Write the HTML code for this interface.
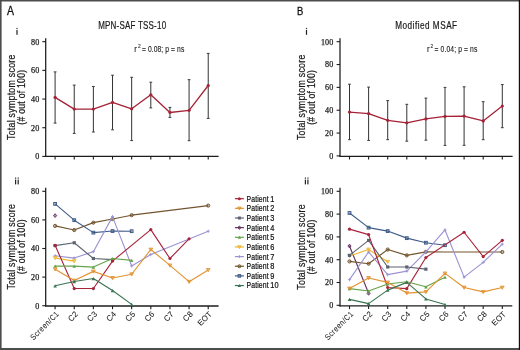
<!DOCTYPE html>
<html><head><meta charset="utf-8"><title>Figure</title>
<style>html,body{margin:0;padding:0;width:520px;height:350px;overflow:hidden;background:#fff;font-family:"Liberation Sans", sans-serif;}</style>
</head><body>
<svg width="520" height="350" viewBox="0 0 520 350" style="position:absolute;left:0;top:0;will-change:transform" font-family='"Liberation Sans", sans-serif'>
<rect x="0" y="0" width="520" height="350" fill="#ffffff"/>
<text x="6.9" y="14.8" font-size="12" text-anchor="start" fill="#111" textLength="7" lengthAdjust="spacingAndGlyphs" stroke="#111" stroke-width="0.3">A</text>
<text x="296.9" y="14.7" font-size="11.4" text-anchor="start" fill="#111" textLength="6.3" lengthAdjust="spacingAndGlyphs" stroke="#111" stroke-width="0.3">B</text>
<text transform="translate(98.2,28.7) scale(0.8,1)" x="0" y="0" font-size="10" text-anchor="start" fill="#1a1a1a" stroke="#1a1a1a" stroke-width="0.2" textLength="84.88" lengthAdjust="spacing" >MPN-SAF TSS-10</text>
<text transform="translate(395.2,28.6) scale(0.82,1)" x="0" y="0" font-size="10" text-anchor="start" fill="#1a1a1a" stroke="#1a1a1a" stroke-width="0.2" textLength="75.49" lengthAdjust="spacing" >Modified MSAF</text>
<rect x="16.4" y="27.9" width="1.2" height="1.2" fill="#2a2a2a"/>
<rect x="16.4" y="30" width="1.2" height="4.8" fill="#222"/>
<rect x="305.9" y="27.9" width="1.2" height="1.2" fill="#2a2a2a"/>
<rect x="305.9" y="30" width="1.2" height="4.8" fill="#222"/>
<rect x="15" y="177.5" width="1.2" height="1.2" fill="#2a2a2a"/>
<rect x="15" y="179.6" width="1.2" height="4.8" fill="#222"/>
<rect x="17.6" y="177.5" width="1.2" height="1.2" fill="#2a2a2a"/>
<rect x="17.6" y="179.6" width="1.2" height="4.8" fill="#222"/>
<rect x="304.8" y="177.5" width="1.2" height="1.2" fill="#2a2a2a"/>
<rect x="304.8" y="179.6" width="1.2" height="4.8" fill="#222"/>
<rect x="307.3" y="177.5" width="1.2" height="1.2" fill="#2a2a2a"/>
<rect x="307.3" y="179.6" width="1.2" height="4.8" fill="#222"/>
<text transform="translate(134.3,52.3) scale(0.9,1)" x="0" y="0" font-size="8.6" text-anchor="start" fill="#1a1a1a" stroke="#1a1a1a" stroke-width="0.12" >r</text>
<text transform="translate(137.9,47.7) scale(0.9,1)" x="0" y="0" font-size="5.4" text-anchor="start" fill="#1a1a1a" stroke="#1a1a1a" stroke-width="0.08" >2</text>
<text transform="translate(141.9,52.3) scale(0.8,1)" x="0" y="0" font-size="8.4" text-anchor="start" fill="#1a1a1a" stroke="#1a1a1a" stroke-width="0.12" textLength="53" lengthAdjust="spacing" >= 0.08; p = ns</text>
<text transform="translate(427,52.3) scale(0.9,1)" x="0" y="0" font-size="8.6" text-anchor="start" fill="#1a1a1a" stroke="#1a1a1a" stroke-width="0.12" >r</text>
<text transform="translate(430.5,47.7) scale(0.9,1)" x="0" y="0" font-size="5.4" text-anchor="start" fill="#1a1a1a" stroke="#1a1a1a" stroke-width="0.08" >2</text>
<text transform="translate(434.5,52.3) scale(0.8,1)" x="0" y="0" font-size="8.4" text-anchor="start" fill="#1a1a1a" stroke="#1a1a1a" stroke-width="0.12" textLength="53.5" lengthAdjust="spacing" >= 0.04; p = ns</text>
<line x1="45.7" y1="38.3" x2="45.7" y2="157" stroke="#1c1c1c" stroke-width="1.25"/>
<line x1="45.1" y1="156.4" x2="218.6" y2="156.4" stroke="#1c1c1c" stroke-width="1.35"/>
<line x1="42.3" y1="156.4" x2="45.7" y2="156.4" stroke="#1c1c1c" stroke-width="1.1"/>
<text x="39.2" y="159.25" font-size="8.1" text-anchor="end" fill="#1e1e1e" stroke="#1e1e1e" stroke-width="0.25" font-family="Liberation Serif, serif">0</text>
<line x1="42.3" y1="127.72" x2="45.7" y2="127.72" stroke="#1c1c1c" stroke-width="1.1"/>
<text x="39.2" y="130.57" font-size="8.1" text-anchor="end" fill="#1e1e1e" stroke="#1e1e1e" stroke-width="0.25" font-family="Liberation Serif, serif">20</text>
<line x1="42.3" y1="99.04" x2="45.7" y2="99.04" stroke="#1c1c1c" stroke-width="1.1"/>
<text x="39.2" y="101.89" font-size="8.1" text-anchor="end" fill="#1e1e1e" stroke="#1e1e1e" stroke-width="0.25" font-family="Liberation Serif, serif">40</text>
<line x1="42.3" y1="70.36" x2="45.7" y2="70.36" stroke="#1c1c1c" stroke-width="1.1"/>
<text x="39.2" y="73.21" font-size="8.1" text-anchor="end" fill="#1e1e1e" stroke="#1e1e1e" stroke-width="0.25" font-family="Liberation Serif, serif">60</text>
<line x1="42.3" y1="41.68" x2="45.7" y2="41.68" stroke="#1c1c1c" stroke-width="1.1"/>
<text x="39.2" y="44.53" font-size="8.1" text-anchor="end" fill="#1e1e1e" stroke="#1e1e1e" stroke-width="0.25" font-family="Liberation Serif, serif">80</text>
<line x1="55.1" y1="156.4" x2="55.1" y2="159.6" stroke="#1c1c1c" stroke-width="1.1"/>
<line x1="74.24" y1="156.4" x2="74.24" y2="159.6" stroke="#1c1c1c" stroke-width="1.1"/>
<line x1="93.38" y1="156.4" x2="93.38" y2="159.6" stroke="#1c1c1c" stroke-width="1.1"/>
<line x1="112.52" y1="156.4" x2="112.52" y2="159.6" stroke="#1c1c1c" stroke-width="1.1"/>
<line x1="131.66" y1="156.4" x2="131.66" y2="159.6" stroke="#1c1c1c" stroke-width="1.1"/>
<line x1="150.8" y1="156.4" x2="150.8" y2="159.6" stroke="#1c1c1c" stroke-width="1.1"/>
<line x1="169.94" y1="156.4" x2="169.94" y2="159.6" stroke="#1c1c1c" stroke-width="1.1"/>
<line x1="189.08" y1="156.4" x2="189.08" y2="159.6" stroke="#1c1c1c" stroke-width="1.1"/>
<line x1="208.22" y1="156.4" x2="208.22" y2="159.6" stroke="#1c1c1c" stroke-width="1.1"/>
<text transform="translate(15,97.3) rotate(-90) scale(0.8,1)" x="0" y="0" font-size="11" text-anchor="middle" fill="#1a1a1a" stroke="#1a1a1a" stroke-width="0.22" textLength="106.75" lengthAdjust="spacing" >Total symptom score</text>
<text transform="translate(24.6,97.3) rotate(-90) scale(0.8,1)" x="0" y="0" font-size="10.8" text-anchor="middle" fill="#1a1a1a" stroke="#1a1a1a" stroke-width="0.22" textLength="68.5" lengthAdjust="spacing" >(# out of 100)</text>
<line x1="55.1" y1="71.9" x2="55.1" y2="123.1" stroke="#333" stroke-width="1"/>
<line x1="53.7" y1="71.9" x2="56.5" y2="71.9" stroke="#3a3a3a" stroke-width="1"/>
<line x1="53.7" y1="123.1" x2="56.5" y2="123.1" stroke="#3a3a3a" stroke-width="1"/>
<line x1="74.24" y1="85.1" x2="74.24" y2="133.4" stroke="#333" stroke-width="1"/>
<line x1="72.84" y1="85.1" x2="75.64" y2="85.1" stroke="#3a3a3a" stroke-width="1"/>
<line x1="72.84" y1="133.4" x2="75.64" y2="133.4" stroke="#3a3a3a" stroke-width="1"/>
<line x1="93.38" y1="86.5" x2="93.38" y2="132" stroke="#333" stroke-width="1"/>
<line x1="91.98" y1="86.5" x2="94.78" y2="86.5" stroke="#3a3a3a" stroke-width="1"/>
<line x1="91.98" y1="132" x2="94.78" y2="132" stroke="#3a3a3a" stroke-width="1"/>
<line x1="112.52" y1="75.2" x2="112.52" y2="129.8" stroke="#333" stroke-width="1"/>
<line x1="111.12" y1="75.2" x2="113.92" y2="75.2" stroke="#3a3a3a" stroke-width="1"/>
<line x1="111.12" y1="129.8" x2="113.92" y2="129.8" stroke="#3a3a3a" stroke-width="1"/>
<line x1="131.66" y1="77.3" x2="131.66" y2="140.6" stroke="#333" stroke-width="1"/>
<line x1="130.26" y1="77.3" x2="133.06" y2="77.3" stroke="#3a3a3a" stroke-width="1"/>
<line x1="130.26" y1="140.6" x2="133.06" y2="140.6" stroke="#3a3a3a" stroke-width="1"/>
<line x1="150.8" y1="82.2" x2="150.8" y2="107.9" stroke="#333" stroke-width="1"/>
<line x1="149.4" y1="82.2" x2="152.2" y2="82.2" stroke="#3a3a3a" stroke-width="1"/>
<line x1="149.4" y1="107.9" x2="152.2" y2="107.9" stroke="#3a3a3a" stroke-width="1"/>
<line x1="169.94" y1="107.4" x2="169.94" y2="117.4" stroke="#333" stroke-width="1"/>
<line x1="168.54" y1="107.4" x2="171.34" y2="107.4" stroke="#3a3a3a" stroke-width="1"/>
<line x1="168.54" y1="117.4" x2="171.34" y2="117.4" stroke="#3a3a3a" stroke-width="1"/>
<line x1="189.08" y1="79.7" x2="189.08" y2="140.7" stroke="#333" stroke-width="1"/>
<line x1="187.68" y1="79.7" x2="190.48" y2="79.7" stroke="#3a3a3a" stroke-width="1"/>
<line x1="187.68" y1="140.7" x2="190.48" y2="140.7" stroke="#3a3a3a" stroke-width="1"/>
<line x1="208.22" y1="53.4" x2="208.22" y2="118.4" stroke="#333" stroke-width="1"/>
<line x1="206.82" y1="53.4" x2="209.62" y2="53.4" stroke="#3a3a3a" stroke-width="1"/>
<line x1="206.82" y1="118.4" x2="209.62" y2="118.4" stroke="#3a3a3a" stroke-width="1"/>
<polyline points="55.1,97.4 74.24,109.1 93.38,109.1 112.52,102.4 131.66,108.8 150.8,94.8 169.94,112.5 189.08,110.3 208.22,85.5" fill="none" stroke="#a52237" stroke-width="1.3" stroke-linejoin="round"/>
<circle cx="55.1" cy="97.4" r="1.6" fill="#a52237"/>
<circle cx="74.24" cy="109.1" r="1.6" fill="#a52237"/>
<circle cx="93.38" cy="109.1" r="1.6" fill="#a52237"/>
<circle cx="112.52" cy="102.4" r="1.6" fill="#a52237"/>
<circle cx="131.66" cy="108.8" r="1.6" fill="#a52237"/>
<circle cx="150.8" cy="94.8" r="1.6" fill="#a52237"/>
<circle cx="169.94" cy="112.5" r="1.6" fill="#a52237"/>
<circle cx="189.08" cy="110.3" r="1.6" fill="#a52237"/>
<circle cx="208.22" cy="85.5" r="1.6" fill="#a52237"/>
<line x1="45.7" y1="187.8" x2="45.7" y2="306.6" stroke="#1c1c1c" stroke-width="1.25"/>
<line x1="45.1" y1="306" x2="218.6" y2="306" stroke="#1c1c1c" stroke-width="1.35"/>
<line x1="42.3" y1="305.7" x2="45.7" y2="305.7" stroke="#1c1c1c" stroke-width="1.1"/>
<text x="39.2" y="308.55" font-size="8.1" text-anchor="end" fill="#1e1e1e" stroke="#1e1e1e" stroke-width="0.25" font-family="Liberation Serif, serif">0</text>
<line x1="42.3" y1="277.1" x2="45.7" y2="277.1" stroke="#1c1c1c" stroke-width="1.1"/>
<text x="39.2" y="279.95" font-size="8.1" text-anchor="end" fill="#1e1e1e" stroke="#1e1e1e" stroke-width="0.25" font-family="Liberation Serif, serif">20</text>
<line x1="42.3" y1="248.5" x2="45.7" y2="248.5" stroke="#1c1c1c" stroke-width="1.1"/>
<text x="39.2" y="251.35" font-size="8.1" text-anchor="end" fill="#1e1e1e" stroke="#1e1e1e" stroke-width="0.25" font-family="Liberation Serif, serif">40</text>
<line x1="42.3" y1="219.9" x2="45.7" y2="219.9" stroke="#1c1c1c" stroke-width="1.1"/>
<text x="39.2" y="222.75" font-size="8.1" text-anchor="end" fill="#1e1e1e" stroke="#1e1e1e" stroke-width="0.25" font-family="Liberation Serif, serif">60</text>
<line x1="42.3" y1="191.3" x2="45.7" y2="191.3" stroke="#1c1c1c" stroke-width="1.1"/>
<text x="39.2" y="194.15" font-size="8.1" text-anchor="end" fill="#1e1e1e" stroke="#1e1e1e" stroke-width="0.25" font-family="Liberation Serif, serif">80</text>
<line x1="55.1" y1="306" x2="55.1" y2="309.2" stroke="#1c1c1c" stroke-width="1.1"/>
<line x1="74.24" y1="306" x2="74.24" y2="309.2" stroke="#1c1c1c" stroke-width="1.1"/>
<line x1="93.38" y1="306" x2="93.38" y2="309.2" stroke="#1c1c1c" stroke-width="1.1"/>
<line x1="112.52" y1="306" x2="112.52" y2="309.2" stroke="#1c1c1c" stroke-width="1.1"/>
<line x1="131.66" y1="306" x2="131.66" y2="309.2" stroke="#1c1c1c" stroke-width="1.1"/>
<line x1="150.8" y1="306" x2="150.8" y2="309.2" stroke="#1c1c1c" stroke-width="1.1"/>
<line x1="169.94" y1="306" x2="169.94" y2="309.2" stroke="#1c1c1c" stroke-width="1.1"/>
<line x1="189.08" y1="306" x2="189.08" y2="309.2" stroke="#1c1c1c" stroke-width="1.1"/>
<line x1="208.22" y1="306" x2="208.22" y2="309.2" stroke="#1c1c1c" stroke-width="1.1"/>
<text transform="translate(15,246.8) rotate(-90) scale(0.8,1)" x="0" y="0" font-size="11" text-anchor="middle" fill="#1a1a1a" stroke="#1a1a1a" stroke-width="0.22" textLength="106.75" lengthAdjust="spacing" >Total symptom score</text>
<text transform="translate(24.6,246.8) rotate(-90) scale(0.8,1)" x="0" y="0" font-size="10.8" text-anchor="middle" fill="#1a1a1a" stroke="#1a1a1a" stroke-width="0.22" textLength="68.5" lengthAdjust="spacing" >(# out of 100)</text>
<path d="M55.1,213.71 L56.7,215.61 L55.1,217.51 L53.5,215.61 Z" fill="#63305f" fill-opacity="0.55" stroke="#63305f" stroke-width="0.9"/>
<polyline points="55.1,225.91 74.24,230.05 93.38,222.62 112.52,219.04 131.66,215.18 208.22,205.6" fill="none" stroke="#72542e" stroke-width="1.12" stroke-linejoin="round"/>
<circle cx="55.1" cy="225.91" r="1.6" fill="#72542e" fill-opacity="0.35" stroke="#72542e" stroke-width="0.95"/>
<circle cx="74.24" cy="230.05" r="1.6" fill="#72542e" fill-opacity="0.35" stroke="#72542e" stroke-width="0.95"/>
<circle cx="93.38" cy="222.62" r="1.6" fill="#72542e" fill-opacity="0.35" stroke="#72542e" stroke-width="0.95"/>
<circle cx="112.52" cy="219.04" r="1.6" fill="#72542e" fill-opacity="0.35" stroke="#72542e" stroke-width="0.95"/>
<circle cx="131.66" cy="215.18" r="1.6" fill="#72542e" fill-opacity="0.35" stroke="#72542e" stroke-width="0.95"/>
<circle cx="208.22" cy="205.6" r="1.6" fill="#72542e" fill-opacity="0.35" stroke="#72542e" stroke-width="0.95"/>
<polyline points="55.1,203.88 74.24,220.19 93.38,232.63 112.52,231.05 131.66,231.2" fill="none" stroke="#405c88" stroke-width="1.12" stroke-linejoin="round"/>
<rect x="53.72" y="202.51" width="2.75" height="2.75" fill="#405c88" fill-opacity="0.3" stroke="#405c88" stroke-width="1.0"/>
<rect x="72.86" y="218.81" width="2.75" height="2.75" fill="#405c88" fill-opacity="0.3" stroke="#405c88" stroke-width="1.0"/>
<rect x="92" y="231.25" width="2.75" height="2.75" fill="#405c88" fill-opacity="0.3" stroke="#405c88" stroke-width="1.0"/>
<rect x="111.14" y="229.68" width="2.75" height="2.75" fill="#405c88" fill-opacity="0.3" stroke="#405c88" stroke-width="1.0"/>
<rect x="130.28" y="229.82" width="2.75" height="2.75" fill="#405c88" fill-opacity="0.3" stroke="#405c88" stroke-width="1.0"/>
<polyline points="55.1,255.79 74.24,258.08 93.38,251.65 112.52,216.61 131.66,265.95 150.8,254.51 208.22,231.2" fill="none" stroke="#9b93d3" stroke-width="1.12" stroke-linejoin="round"/>
<path d="M53.5,255.79 H56.7 M55.1,254.19 V257.39" stroke="#9b93d3" stroke-width="0.9"/>
<path d="M72.64,258.08 H75.84 M74.24,256.48 V259.68" stroke="#9b93d3" stroke-width="0.9"/>
<path d="M91.78,251.65 H94.98 M93.38,250.05 V253.25" stroke="#9b93d3" stroke-width="0.9"/>
<path d="M110.92,216.61 H114.12 M112.52,215.01 V218.21" stroke="#9b93d3" stroke-width="0.9"/>
<path d="M130.06,265.95 H133.26 M131.66,264.35 V267.55" stroke="#9b93d3" stroke-width="0.9"/>
<path d="M149.2,254.51 H152.4 M150.8,252.91 V256.11" stroke="#9b93d3" stroke-width="0.9"/>
<path d="M206.62,231.2 H209.82 M208.22,229.6 V232.8" stroke="#9b93d3" stroke-width="0.9"/>
<polyline points="55.1,257.94 74.24,261.08" fill="none" stroke="#efb52e" stroke-width="1.12" stroke-linejoin="round"/>
<path d="M53.2,256.54 L57,256.54 L55.1,259.74 Z" fill="#efb52e" fill-opacity="0.6" stroke="#efb52e" stroke-width="0.8"/>
<path d="M72.34,259.68 L76.14,259.68 L74.24,262.88 Z" fill="#efb52e" fill-opacity="0.6" stroke="#efb52e" stroke-width="0.8"/>
<polyline points="55.1,245.64 74.24,242.78 93.38,258.51 112.52,259.65" fill="none" stroke="#5c6370" stroke-width="1.12" stroke-linejoin="round"/>
<rect x="53.5" y="244.04" width="3.2" height="3.2" fill="#5c6370"/>
<rect x="72.64" y="241.18" width="3.2" height="3.2" fill="#5c6370"/>
<rect x="91.78" y="256.91" width="3.2" height="3.2" fill="#5c6370"/>
<rect x="110.92" y="258.05" width="3.2" height="3.2" fill="#5c6370"/>
<polyline points="55.1,245.35 74.24,288.54 93.38,288.54 112.52,261.08 150.8,229.62 169.94,258.51 189.08,238.78" fill="none" stroke="#a8243a" stroke-width="1.12" stroke-linejoin="round"/>
<circle cx="55.1" cy="245.35" r="1.6" fill="#a8243a"/>
<circle cx="74.24" cy="288.54" r="1.6" fill="#a8243a"/>
<circle cx="93.38" cy="288.54" r="1.6" fill="#a8243a"/>
<circle cx="112.52" cy="261.08" r="1.6" fill="#a8243a"/>
<circle cx="150.8" cy="229.62" r="1.6" fill="#a8243a"/>
<circle cx="169.94" cy="258.51" r="1.6" fill="#a8243a"/>
<circle cx="189.08" cy="238.78" r="1.6" fill="#a8243a"/>
<polyline points="55.1,266.09 74.24,266.09 93.38,267.09 112.52,258.51 131.66,260.37" fill="none" stroke="#65a34a" stroke-width="1.12" stroke-linejoin="round"/>
<path d="M53.3,267.69 L56.9,267.69 L55.1,264.49 Z" fill="#65a34a"/>
<path d="M72.44,267.69 L76.04,267.69 L74.24,264.49 Z" fill="#65a34a"/>
<path d="M91.58,268.69 L95.18,268.69 L93.38,265.49 Z" fill="#65a34a"/>
<path d="M110.72,260.11 L114.32,260.11 L112.52,256.91 Z" fill="#65a34a"/>
<path d="M129.86,261.97 L133.46,261.97 L131.66,258.77 Z" fill="#65a34a"/>
<polyline points="55.1,269.24 74.24,280.53 93.38,271.38 112.52,277.96 131.66,274.24 150.8,249.5 169.94,265.37 189.08,281.68 208.22,269.95" fill="none" stroke="#e2922f" stroke-width="1.12" stroke-linejoin="round"/>
<path d="M53.2,267.83 L57,267.83 L55.1,271.04 Z" fill="#e2922f" fill-opacity="0.6" stroke="#e2922f" stroke-width="0.8"/>
<path d="M72.34,279.13 L76.14,279.13 L74.24,282.33 Z" fill="#e2922f" fill-opacity="0.6" stroke="#e2922f" stroke-width="0.8"/>
<path d="M91.48,269.98 L95.28,269.98 L93.38,273.18 Z" fill="#e2922f" fill-opacity="0.6" stroke="#e2922f" stroke-width="0.8"/>
<path d="M110.62,276.56 L114.42,276.56 L112.52,279.76 Z" fill="#e2922f" fill-opacity="0.6" stroke="#e2922f" stroke-width="0.8"/>
<path d="M129.76,272.84 L133.56,272.84 L131.66,276.04 Z" fill="#e2922f" fill-opacity="0.6" stroke="#e2922f" stroke-width="0.8"/>
<path d="M148.9,248.1 L152.7,248.1 L150.8,251.3 Z" fill="#e2922f" fill-opacity="0.6" stroke="#e2922f" stroke-width="0.8"/>
<path d="M168.04,263.97 L171.84,263.97 L169.94,267.17 Z" fill="#e2922f" fill-opacity="0.6" stroke="#e2922f" stroke-width="0.8"/>
<path d="M187.18,280.28 L190.98,280.28 L189.08,283.48 Z" fill="#e2922f" fill-opacity="0.6" stroke="#e2922f" stroke-width="0.8"/>
<path d="M206.32,268.55 L210.12,268.55 L208.22,271.75 Z" fill="#e2922f" fill-opacity="0.6" stroke="#e2922f" stroke-width="0.8"/>
<polyline points="55.1,285.82 74.24,281.53 93.38,278.53 112.52,290.54 131.66,304.41" fill="none" stroke="#3b7352" stroke-width="1.12" stroke-linejoin="round"/>
<path d="M53.3,287.42 L56.9,287.42 L55.1,284.22 Z" fill="#3b7352"/>
<path d="M72.44,283.13 L76.04,283.13 L74.24,279.93 Z" fill="#3b7352"/>
<path d="M91.58,280.13 L95.18,280.13 L93.38,276.93 Z" fill="#3b7352"/>
<path d="M110.72,292.14 L114.32,292.14 L112.52,288.94 Z" fill="#3b7352"/>
<path d="M129.86,306.01 L133.46,306.01 L131.66,302.81 Z" fill="#3b7352"/>
<text transform="translate(59.3,314.7) rotate(-45) scale(0.88,1)" x="0" y="0" font-size="8" text-anchor="end" fill="#1a1a1a" stroke="#1a1a1a" stroke-width="0.05" textLength="41.48" lengthAdjust="spacing" >Screen/C1</text>
<text transform="translate(78.44,314.7) rotate(-45) scale(1,1)" x="0" y="0" font-size="8" text-anchor="end" fill="#1a1a1a" stroke="#1a1a1a" stroke-width="0.05" >C2</text>
<text transform="translate(97.58,314.7) rotate(-45) scale(1,1)" x="0" y="0" font-size="8" text-anchor="end" fill="#1a1a1a" stroke="#1a1a1a" stroke-width="0.05" >C3</text>
<text transform="translate(116.72,314.7) rotate(-45) scale(1,1)" x="0" y="0" font-size="8" text-anchor="end" fill="#1a1a1a" stroke="#1a1a1a" stroke-width="0.05" >C4</text>
<text transform="translate(135.86,314.7) rotate(-45) scale(1,1)" x="0" y="0" font-size="8" text-anchor="end" fill="#1a1a1a" stroke="#1a1a1a" stroke-width="0.05" >C5</text>
<text transform="translate(155,314.7) rotate(-45) scale(1,1)" x="0" y="0" font-size="8" text-anchor="end" fill="#1a1a1a" stroke="#1a1a1a" stroke-width="0.05" >C6</text>
<text transform="translate(174.14,314.7) rotate(-45) scale(1,1)" x="0" y="0" font-size="8" text-anchor="end" fill="#1a1a1a" stroke="#1a1a1a" stroke-width="0.05" >C7</text>
<text transform="translate(193.28,314.7) rotate(-45) scale(1,1)" x="0" y="0" font-size="8" text-anchor="end" fill="#1a1a1a" stroke="#1a1a1a" stroke-width="0.05" >C8</text>
<text transform="translate(212.42,314.7) rotate(-45) scale(1,1)" x="0" y="0" font-size="8" text-anchor="end" fill="#1a1a1a" stroke="#1a1a1a" stroke-width="0.05" >EOT</text>
<line x1="234.9" y1="198.7" x2="243.9" y2="198.7" stroke="#a8243a" stroke-width="1.2"/>
<circle cx="239.4" cy="198.7" r="1.5" fill="#a8243a"/>
<text transform="translate(246.5,201.6) scale(0.8,1)" x="0" y="0" font-size="8.6" text-anchor="start" fill="#111" stroke="#111" stroke-width="0.22" textLength="27.75" lengthAdjust="spacing" >Patient</text>
<text transform="translate(274.3,201.6) scale(0.86,1)" x="0" y="0" font-size="8.6" text-anchor="end" fill="#111" stroke="#111" stroke-width="0.22" >1</text>
<line x1="234.9" y1="208.35" x2="243.9" y2="208.35" stroke="#e2922f" stroke-width="1.2"/>
<path d="M237.6,207.05 L241.2,207.05 L239.4,210.05 Z" fill="#e2922f" fill-opacity="0.6" stroke="#e2922f" stroke-width="0.8"/>
<text transform="translate(246.5,211.25) scale(0.8,1)" x="0" y="0" font-size="8.6" text-anchor="start" fill="#111" stroke="#111" stroke-width="0.22" textLength="27.75" lengthAdjust="spacing" >Patient</text>
<text transform="translate(274.3,211.25) scale(0.86,1)" x="0" y="0" font-size="8.6" text-anchor="end" fill="#111" stroke="#111" stroke-width="0.22" >2</text>
<line x1="234.9" y1="218" x2="243.9" y2="218" stroke="#5c6370" stroke-width="1.2"/>
<rect x="237.9" y="216.5" width="3" height="3" fill="#5c6370"/>
<text transform="translate(246.5,220.9) scale(0.8,1)" x="0" y="0" font-size="8.6" text-anchor="start" fill="#111" stroke="#111" stroke-width="0.22" textLength="27.75" lengthAdjust="spacing" >Patient</text>
<text transform="translate(274.3,220.9) scale(0.86,1)" x="0" y="0" font-size="8.6" text-anchor="end" fill="#111" stroke="#111" stroke-width="0.22" >3</text>
<line x1="234.9" y1="227.65" x2="243.9" y2="227.65" stroke="#63305f" stroke-width="1.2"/>
<path d="M239.4,225.85 L240.9,227.65 L239.4,229.45 L237.9,227.65 Z" fill="#63305f" fill-opacity="0.55" stroke="#63305f" stroke-width="0.9"/>
<text transform="translate(246.5,230.55) scale(0.8,1)" x="0" y="0" font-size="8.6" text-anchor="start" fill="#111" stroke="#111" stroke-width="0.22" textLength="27.75" lengthAdjust="spacing" >Patient</text>
<text transform="translate(274.3,230.55) scale(0.86,1)" x="0" y="0" font-size="8.6" text-anchor="end" fill="#111" stroke="#111" stroke-width="0.22" >4</text>
<line x1="234.9" y1="237.3" x2="243.9" y2="237.3" stroke="#65a34a" stroke-width="1.2"/>
<path d="M237.7,238.8 L241.1,238.8 L239.4,235.8 Z" fill="#65a34a"/>
<text transform="translate(246.5,240.2) scale(0.8,1)" x="0" y="0" font-size="8.6" text-anchor="start" fill="#111" stroke="#111" stroke-width="0.22" textLength="27.75" lengthAdjust="spacing" >Patient</text>
<text transform="translate(274.3,240.2) scale(0.86,1)" x="0" y="0" font-size="8.6" text-anchor="end" fill="#111" stroke="#111" stroke-width="0.22" >5</text>
<line x1="234.9" y1="246.95" x2="243.9" y2="246.95" stroke="#efb52e" stroke-width="1.2"/>
<path d="M237.6,245.65 L241.2,245.65 L239.4,248.65 Z" fill="#efb52e" fill-opacity="0.6" stroke="#efb52e" stroke-width="0.8"/>
<text transform="translate(246.5,249.85) scale(0.8,1)" x="0" y="0" font-size="8.6" text-anchor="start" fill="#111" stroke="#111" stroke-width="0.22" textLength="27.75" lengthAdjust="spacing" >Patient</text>
<text transform="translate(274.3,249.85) scale(0.86,1)" x="0" y="0" font-size="8.6" text-anchor="end" fill="#111" stroke="#111" stroke-width="0.22" >6</text>
<line x1="234.9" y1="256.6" x2="243.9" y2="256.6" stroke="#9b93d3" stroke-width="1.2"/>
<path d="M237.9,256.6 H240.9 M239.4,255.1 V258.1" stroke="#9b93d3" stroke-width="0.9"/>
<text transform="translate(246.5,259.5) scale(0.8,1)" x="0" y="0" font-size="8.6" text-anchor="start" fill="#111" stroke="#111" stroke-width="0.22" textLength="27.75" lengthAdjust="spacing" >Patient</text>
<text transform="translate(274.3,259.5) scale(0.86,1)" x="0" y="0" font-size="8.6" text-anchor="end" fill="#111" stroke="#111" stroke-width="0.22" >7</text>
<line x1="234.9" y1="266.25" x2="243.9" y2="266.25" stroke="#72542e" stroke-width="1.2"/>
<circle cx="239.4" cy="266.25" r="1.5" fill="#72542e" fill-opacity="0.35" stroke="#72542e" stroke-width="0.95"/>
<text transform="translate(246.5,269.15) scale(0.8,1)" x="0" y="0" font-size="8.6" text-anchor="start" fill="#111" stroke="#111" stroke-width="0.22" textLength="27.75" lengthAdjust="spacing" >Patient</text>
<text transform="translate(274.3,269.15) scale(0.86,1)" x="0" y="0" font-size="8.6" text-anchor="end" fill="#111" stroke="#111" stroke-width="0.22" >8</text>
<line x1="234.9" y1="275.9" x2="243.9" y2="275.9" stroke="#405c88" stroke-width="1.2"/>
<rect x="238.11" y="274.61" width="2.58" height="2.58" fill="#405c88" fill-opacity="0.3" stroke="#405c88" stroke-width="1.0"/>
<text transform="translate(246.5,278.8) scale(0.8,1)" x="0" y="0" font-size="8.6" text-anchor="start" fill="#111" stroke="#111" stroke-width="0.22" textLength="27.75" lengthAdjust="spacing" >Patient</text>
<text transform="translate(274.3,278.8) scale(0.86,1)" x="0" y="0" font-size="8.6" text-anchor="end" fill="#111" stroke="#111" stroke-width="0.22" >9</text>
<line x1="234.9" y1="285.55" x2="243.9" y2="285.55" stroke="#3b7352" stroke-width="1.2"/>
<path d="M237.7,287.05 L241.1,287.05 L239.4,284.05 Z" fill="#3b7352"/>
<text transform="translate(246.5,288.45) scale(0.8,1)" x="0" y="0" font-size="8.6" text-anchor="start" fill="#111" stroke="#111" stroke-width="0.22" textLength="27.75" lengthAdjust="spacing" >Patient</text>
<text transform="translate(278.6,288.45) scale(0.86,1)" x="0" y="0" font-size="8.6" text-anchor="end" fill="#111" stroke="#111" stroke-width="0.22" >10</text>
<line x1="340" y1="38.3" x2="340" y2="156.9" stroke="#1c1c1c" stroke-width="1.25"/>
<line x1="339.4" y1="156.3" x2="512.6" y2="156.3" stroke="#1c1c1c" stroke-width="1.35"/>
<line x1="336.6" y1="155.9" x2="340" y2="155.9" stroke="#1c1c1c" stroke-width="1.1"/>
<text x="333.2" y="158.75" font-size="8.1" text-anchor="end" fill="#1e1e1e" stroke="#1e1e1e" stroke-width="0.25" font-family="Liberation Serif, serif">0</text>
<line x1="336.6" y1="133.06" x2="340" y2="133.06" stroke="#1c1c1c" stroke-width="1.1"/>
<text x="333.2" y="135.91" font-size="8.1" text-anchor="end" fill="#1e1e1e" stroke="#1e1e1e" stroke-width="0.25" font-family="Liberation Serif, serif">20</text>
<line x1="336.6" y1="110.22" x2="340" y2="110.22" stroke="#1c1c1c" stroke-width="1.1"/>
<text x="333.2" y="113.07" font-size="8.1" text-anchor="end" fill="#1e1e1e" stroke="#1e1e1e" stroke-width="0.25" font-family="Liberation Serif, serif">40</text>
<line x1="336.6" y1="87.38" x2="340" y2="87.38" stroke="#1c1c1c" stroke-width="1.1"/>
<text x="333.2" y="90.23" font-size="8.1" text-anchor="end" fill="#1e1e1e" stroke="#1e1e1e" stroke-width="0.25" font-family="Liberation Serif, serif">60</text>
<line x1="336.6" y1="64.54" x2="340" y2="64.54" stroke="#1c1c1c" stroke-width="1.1"/>
<text x="333.2" y="67.39" font-size="8.1" text-anchor="end" fill="#1e1e1e" stroke="#1e1e1e" stroke-width="0.25" font-family="Liberation Serif, serif">80</text>
<line x1="336.6" y1="41.7" x2="340" y2="41.7" stroke="#1c1c1c" stroke-width="1.1"/>
<text x="333.2" y="44.55" font-size="8.1" text-anchor="end" fill="#1e1e1e" stroke="#1e1e1e" stroke-width="0.25" font-family="Liberation Serif, serif">100</text>
<line x1="349.5" y1="156.3" x2="349.5" y2="159.5" stroke="#1c1c1c" stroke-width="1.1"/>
<line x1="368.6" y1="156.3" x2="368.6" y2="159.5" stroke="#1c1c1c" stroke-width="1.1"/>
<line x1="387.7" y1="156.3" x2="387.7" y2="159.5" stroke="#1c1c1c" stroke-width="1.1"/>
<line x1="406.8" y1="156.3" x2="406.8" y2="159.5" stroke="#1c1c1c" stroke-width="1.1"/>
<line x1="425.9" y1="156.3" x2="425.9" y2="159.5" stroke="#1c1c1c" stroke-width="1.1"/>
<line x1="445" y1="156.3" x2="445" y2="159.5" stroke="#1c1c1c" stroke-width="1.1"/>
<line x1="464.1" y1="156.3" x2="464.1" y2="159.5" stroke="#1c1c1c" stroke-width="1.1"/>
<line x1="483.2" y1="156.3" x2="483.2" y2="159.5" stroke="#1c1c1c" stroke-width="1.1"/>
<line x1="502.3" y1="156.3" x2="502.3" y2="159.5" stroke="#1c1c1c" stroke-width="1.1"/>
<text transform="translate(305,97.4) rotate(-90) scale(0.8,1)" x="0" y="0" font-size="11" text-anchor="middle" fill="#1a1a1a" stroke="#1a1a1a" stroke-width="0.22" textLength="106.75" lengthAdjust="spacing" >Total symptom score</text>
<text transform="translate(314.6,97.4) rotate(-90) scale(0.8,1)" x="0" y="0" font-size="10.8" text-anchor="middle" fill="#1a1a1a" stroke="#1a1a1a" stroke-width="0.22" textLength="68.5" lengthAdjust="spacing" >(# out of 100)</text>
<line x1="349.5" y1="84.2" x2="349.5" y2="139.7" stroke="#333" stroke-width="1"/>
<line x1="348.1" y1="84.2" x2="350.9" y2="84.2" stroke="#3a3a3a" stroke-width="1"/>
<line x1="348.1" y1="139.7" x2="350.9" y2="139.7" stroke="#3a3a3a" stroke-width="1"/>
<line x1="368.6" y1="87.1" x2="368.6" y2="140.4" stroke="#333" stroke-width="1"/>
<line x1="367.2" y1="87.1" x2="370" y2="87.1" stroke="#3a3a3a" stroke-width="1"/>
<line x1="367.2" y1="140.4" x2="370" y2="140.4" stroke="#3a3a3a" stroke-width="1"/>
<line x1="387.7" y1="100.6" x2="387.7" y2="139.7" stroke="#333" stroke-width="1"/>
<line x1="386.3" y1="100.6" x2="389.1" y2="100.6" stroke="#3a3a3a" stroke-width="1"/>
<line x1="386.3" y1="139.7" x2="389.1" y2="139.7" stroke="#3a3a3a" stroke-width="1"/>
<line x1="406.8" y1="104.3" x2="406.8" y2="141.2" stroke="#333" stroke-width="1"/>
<line x1="405.4" y1="104.3" x2="408.2" y2="104.3" stroke="#3a3a3a" stroke-width="1"/>
<line x1="405.4" y1="141.2" x2="408.2" y2="141.2" stroke="#3a3a3a" stroke-width="1"/>
<line x1="425.9" y1="98.1" x2="425.9" y2="140.2" stroke="#333" stroke-width="1"/>
<line x1="424.5" y1="98.1" x2="427.3" y2="98.1" stroke="#3a3a3a" stroke-width="1"/>
<line x1="424.5" y1="140.2" x2="427.3" y2="140.2" stroke="#3a3a3a" stroke-width="1"/>
<line x1="445" y1="87.4" x2="445" y2="145.4" stroke="#333" stroke-width="1"/>
<line x1="443.6" y1="87.4" x2="446.4" y2="87.4" stroke="#3a3a3a" stroke-width="1"/>
<line x1="443.6" y1="145.4" x2="446.4" y2="145.4" stroke="#3a3a3a" stroke-width="1"/>
<line x1="464.1" y1="86.8" x2="464.1" y2="145.3" stroke="#333" stroke-width="1"/>
<line x1="462.7" y1="86.8" x2="465.5" y2="86.8" stroke="#3a3a3a" stroke-width="1"/>
<line x1="462.7" y1="145.3" x2="465.5" y2="145.3" stroke="#3a3a3a" stroke-width="1"/>
<line x1="483.2" y1="101.7" x2="483.2" y2="139.7" stroke="#333" stroke-width="1"/>
<line x1="481.8" y1="101.7" x2="484.6" y2="101.7" stroke="#3a3a3a" stroke-width="1"/>
<line x1="481.8" y1="139.7" x2="484.6" y2="139.7" stroke="#3a3a3a" stroke-width="1"/>
<line x1="502.3" y1="84.6" x2="502.3" y2="127.7" stroke="#333" stroke-width="1"/>
<line x1="500.9" y1="84.6" x2="503.7" y2="84.6" stroke="#3a3a3a" stroke-width="1"/>
<line x1="500.9" y1="127.7" x2="503.7" y2="127.7" stroke="#3a3a3a" stroke-width="1"/>
<polyline points="349.5,112.1 368.6,113.6 387.7,120.3 406.8,122.8 425.9,118.9 445,116.4 464.1,116.1 483.2,120.9 502.3,106" fill="none" stroke="#a52237" stroke-width="1.3" stroke-linejoin="round"/>
<circle cx="349.5" cy="112.1" r="1.6" fill="#a52237"/>
<circle cx="368.6" cy="113.6" r="1.6" fill="#a52237"/>
<circle cx="387.7" cy="120.3" r="1.6" fill="#a52237"/>
<circle cx="406.8" cy="122.8" r="1.6" fill="#a52237"/>
<circle cx="425.9" cy="118.9" r="1.6" fill="#a52237"/>
<circle cx="445" cy="116.4" r="1.6" fill="#a52237"/>
<circle cx="464.1" cy="116.1" r="1.6" fill="#a52237"/>
<circle cx="483.2" cy="120.9" r="1.6" fill="#a52237"/>
<circle cx="502.3" cy="106" r="1.6" fill="#a52237"/>
<line x1="340" y1="187.8" x2="340" y2="306.5" stroke="#1c1c1c" stroke-width="1.25"/>
<line x1="339.4" y1="305.9" x2="512.3" y2="305.9" stroke="#1c1c1c" stroke-width="1.35"/>
<line x1="336.6" y1="305.3" x2="340" y2="305.3" stroke="#1c1c1c" stroke-width="1.1"/>
<text x="333.2" y="308.15" font-size="8.1" text-anchor="end" fill="#1e1e1e" stroke="#1e1e1e" stroke-width="0.25" font-family="Liberation Serif, serif">0</text>
<line x1="336.6" y1="282.5" x2="340" y2="282.5" stroke="#1c1c1c" stroke-width="1.1"/>
<text x="333.2" y="285.35" font-size="8.1" text-anchor="end" fill="#1e1e1e" stroke="#1e1e1e" stroke-width="0.25" font-family="Liberation Serif, serif">20</text>
<line x1="336.6" y1="259.7" x2="340" y2="259.7" stroke="#1c1c1c" stroke-width="1.1"/>
<text x="333.2" y="262.55" font-size="8.1" text-anchor="end" fill="#1e1e1e" stroke="#1e1e1e" stroke-width="0.25" font-family="Liberation Serif, serif">40</text>
<line x1="336.6" y1="236.9" x2="340" y2="236.9" stroke="#1c1c1c" stroke-width="1.1"/>
<text x="333.2" y="239.75" font-size="8.1" text-anchor="end" fill="#1e1e1e" stroke="#1e1e1e" stroke-width="0.25" font-family="Liberation Serif, serif">60</text>
<line x1="336.6" y1="214.1" x2="340" y2="214.1" stroke="#1c1c1c" stroke-width="1.1"/>
<text x="333.2" y="216.95" font-size="8.1" text-anchor="end" fill="#1e1e1e" stroke="#1e1e1e" stroke-width="0.25" font-family="Liberation Serif, serif">80</text>
<line x1="336.6" y1="191.3" x2="340" y2="191.3" stroke="#1c1c1c" stroke-width="1.1"/>
<text x="333.2" y="194.15" font-size="8.1" text-anchor="end" fill="#1e1e1e" stroke="#1e1e1e" stroke-width="0.25" font-family="Liberation Serif, serif">100</text>
<line x1="349.5" y1="305.9" x2="349.5" y2="309.1" stroke="#1c1c1c" stroke-width="1.1"/>
<line x1="368.6" y1="305.9" x2="368.6" y2="309.1" stroke="#1c1c1c" stroke-width="1.1"/>
<line x1="387.7" y1="305.9" x2="387.7" y2="309.1" stroke="#1c1c1c" stroke-width="1.1"/>
<line x1="406.8" y1="305.9" x2="406.8" y2="309.1" stroke="#1c1c1c" stroke-width="1.1"/>
<line x1="425.9" y1="305.9" x2="425.9" y2="309.1" stroke="#1c1c1c" stroke-width="1.1"/>
<line x1="445" y1="305.9" x2="445" y2="309.1" stroke="#1c1c1c" stroke-width="1.1"/>
<line x1="464.1" y1="305.9" x2="464.1" y2="309.1" stroke="#1c1c1c" stroke-width="1.1"/>
<line x1="483.2" y1="305.9" x2="483.2" y2="309.1" stroke="#1c1c1c" stroke-width="1.1"/>
<line x1="502.3" y1="305.9" x2="502.3" y2="309.1" stroke="#1c1c1c" stroke-width="1.1"/>
<text transform="translate(305,247) rotate(-90) scale(0.8,1)" x="0" y="0" font-size="11" text-anchor="middle" fill="#1a1a1a" stroke="#1a1a1a" stroke-width="0.22" textLength="106.75" lengthAdjust="spacing" >Total symptom score</text>
<text transform="translate(314.6,247) rotate(-90) scale(0.8,1)" x="0" y="0" font-size="10.8" text-anchor="middle" fill="#1a1a1a" stroke="#1a1a1a" stroke-width="0.22" textLength="68.5" lengthAdjust="spacing" >(# out of 100)</text>
<polyline points="349.5,246.02 368.6,293.33" fill="none" stroke="#63305f" stroke-width="1.12" stroke-linejoin="round"/>
<path d="M349.5,244.12 L351.1,246.02 L349.5,247.92 L347.9,246.02 Z" fill="#63305f" fill-opacity="0.55" stroke="#63305f" stroke-width="0.9"/>
<path d="M368.6,291.43 L370.2,293.33 L368.6,295.23 L367,293.33 Z" fill="#63305f" fill-opacity="0.55" stroke="#63305f" stroke-width="0.9"/>
<polyline points="349.5,261.41 368.6,263.69 387.7,249.55 406.8,255.37 425.9,251.83 445,251.95 464.1,251.95 483.2,251.95 502.3,251.95" fill="none" stroke="#72542e" stroke-width="1.12" stroke-linejoin="round"/>
<circle cx="349.5" cy="261.41" r="1.6" fill="#72542e" fill-opacity="0.35" stroke="#72542e" stroke-width="0.95"/>
<circle cx="368.6" cy="263.69" r="1.6" fill="#72542e" fill-opacity="0.35" stroke="#72542e" stroke-width="0.95"/>
<circle cx="387.7" cy="249.55" r="1.6" fill="#72542e" fill-opacity="0.35" stroke="#72542e" stroke-width="0.95"/>
<circle cx="406.8" cy="255.37" r="1.6" fill="#72542e" fill-opacity="0.35" stroke="#72542e" stroke-width="0.95"/>
<circle cx="425.9" cy="251.83" r="1.6" fill="#72542e" fill-opacity="0.35" stroke="#72542e" stroke-width="0.95"/>
<circle cx="502.3" cy="251.95" r="1.6" fill="#72542e" fill-opacity="0.35" stroke="#72542e" stroke-width="0.95"/>
<polyline points="349.5,212.96 368.6,227.67 387.7,231.09 406.8,238.15 425.9,242.71 445,245.22" fill="none" stroke="#405c88" stroke-width="1.12" stroke-linejoin="round"/>
<rect x="348.12" y="211.58" width="2.75" height="2.75" fill="#405c88" fill-opacity="0.3" stroke="#405c88" stroke-width="1.0"/>
<rect x="367.22" y="226.29" width="2.75" height="2.75" fill="#405c88" fill-opacity="0.3" stroke="#405c88" stroke-width="1.0"/>
<rect x="386.32" y="229.71" width="2.75" height="2.75" fill="#405c88" fill-opacity="0.3" stroke="#405c88" stroke-width="1.0"/>
<rect x="405.42" y="236.78" width="2.75" height="2.75" fill="#405c88" fill-opacity="0.3" stroke="#405c88" stroke-width="1.0"/>
<rect x="424.52" y="241.34" width="2.75" height="2.75" fill="#405c88" fill-opacity="0.3" stroke="#405c88" stroke-width="1.0"/>
<rect x="443.62" y="243.85" width="2.75" height="2.75" fill="#405c88" fill-opacity="0.3" stroke="#405c88" stroke-width="1.0"/>
<polyline points="349.5,279.65 368.6,251.95 387.7,274.63 406.8,271.1 425.9,251.83 445,229.95 464.1,277.14 483.2,262.32 502.3,244.08" fill="none" stroke="#9b93d3" stroke-width="1.12" stroke-linejoin="round"/>
<path d="M347.9,279.65 H351.1 M349.5,278.05 V281.25" stroke="#9b93d3" stroke-width="0.9"/>
<path d="M367,251.95 H370.2 M368.6,250.35 V253.55" stroke="#9b93d3" stroke-width="0.9"/>
<path d="M386.1,274.63 H389.3 M387.7,273.03 V276.23" stroke="#9b93d3" stroke-width="0.9"/>
<path d="M405.2,271.1 H408.4 M406.8,269.5 V272.7" stroke="#9b93d3" stroke-width="0.9"/>
<path d="M424.3,251.83 H427.5 M425.9,250.23 V253.43" stroke="#9b93d3" stroke-width="0.9"/>
<path d="M443.4,229.95 H446.6 M445,228.35 V231.55" stroke="#9b93d3" stroke-width="0.9"/>
<path d="M462.5,277.14 H465.7 M464.1,275.54 V278.74" stroke="#9b93d3" stroke-width="0.9"/>
<path d="M481.6,262.32 H484.8 M483.2,260.72 V263.92" stroke="#9b93d3" stroke-width="0.9"/>
<path d="M500.7,244.08 H503.9 M502.3,242.48 V245.68" stroke="#9b93d3" stroke-width="0.9"/>
<polyline points="349.5,256.05 368.6,249.44 387.7,261.75" fill="none" stroke="#efb52e" stroke-width="1.12" stroke-linejoin="round"/>
<path d="M347.6,254.65 L351.4,254.65 L349.5,257.85 Z" fill="#efb52e" fill-opacity="0.6" stroke="#efb52e" stroke-width="0.8"/>
<path d="M366.7,248.04 L370.5,248.04 L368.6,251.24 Z" fill="#efb52e" fill-opacity="0.6" stroke="#efb52e" stroke-width="0.8"/>
<path d="M385.8,260.35 L389.6,260.35 L387.7,263.55 Z" fill="#efb52e" fill-opacity="0.6" stroke="#efb52e" stroke-width="0.8"/>
<polyline points="349.5,255.37 368.6,240.43 387.7,267 406.8,267 425.9,269.16" fill="none" stroke="#5c6370" stroke-width="1.12" stroke-linejoin="round"/>
<rect x="347.9" y="253.77" width="3.2" height="3.2" fill="#5c6370"/>
<rect x="367" y="238.83" width="3.2" height="3.2" fill="#5c6370"/>
<rect x="386.1" y="265.4" width="3.2" height="3.2" fill="#5c6370"/>
<rect x="405.2" y="265.4" width="3.2" height="3.2" fill="#5c6370"/>
<rect x="424.3" y="267.56" width="3.2" height="3.2" fill="#5c6370"/>
<polyline points="349.5,229.15 368.6,234.62 387.7,287.52 406.8,288.66 425.9,257.53 464.1,232.23 483.2,256.62 502.3,240.32" fill="none" stroke="#a8243a" stroke-width="1.12" stroke-linejoin="round"/>
<circle cx="349.5" cy="229.15" r="1.6" fill="#a8243a"/>
<circle cx="368.6" cy="234.62" r="1.6" fill="#a8243a"/>
<circle cx="387.7" cy="287.52" r="1.6" fill="#a8243a"/>
<circle cx="406.8" cy="288.66" r="1.6" fill="#a8243a"/>
<circle cx="425.9" cy="257.53" r="1.6" fill="#a8243a"/>
<circle cx="464.1" cy="232.23" r="1.6" fill="#a8243a"/>
<circle cx="483.2" cy="256.62" r="1.6" fill="#a8243a"/>
<circle cx="502.3" cy="240.32" r="1.6" fill="#a8243a"/>
<polyline points="349.5,288.66 368.6,291.05 387.7,283.98 406.8,281.7 425.9,286.83 445,277.14" fill="none" stroke="#65a34a" stroke-width="1.12" stroke-linejoin="round"/>
<path d="M347.7,290.26 L351.3,290.26 L349.5,287.06 Z" fill="#65a34a"/>
<path d="M366.8,292.65 L370.4,292.65 L368.6,289.45 Z" fill="#65a34a"/>
<path d="M385.9,285.58 L389.5,285.58 L387.7,282.38 Z" fill="#65a34a"/>
<path d="M405,283.3 L408.6,283.3 L406.8,280.1 Z" fill="#65a34a"/>
<path d="M424.1,288.43 L427.7,288.43 L425.9,285.23 Z" fill="#65a34a"/>
<path d="M443.2,278.74 L446.8,278.74 L445,275.54 Z" fill="#65a34a"/>
<polyline points="349.5,288.43 368.6,277.94 387.7,282.39 406.8,293.1 425.9,291.85 445,273.38 464.1,287.52 483.2,291.85 502.3,287.52" fill="none" stroke="#e2922f" stroke-width="1.12" stroke-linejoin="round"/>
<path d="M347.6,287.03 L351.4,287.03 L349.5,290.23 Z" fill="#e2922f" fill-opacity="0.6" stroke="#e2922f" stroke-width="0.8"/>
<path d="M366.7,276.54 L370.5,276.54 L368.6,279.74 Z" fill="#e2922f" fill-opacity="0.6" stroke="#e2922f" stroke-width="0.8"/>
<path d="M385.8,280.99 L389.6,280.99 L387.7,284.19 Z" fill="#e2922f" fill-opacity="0.6" stroke="#e2922f" stroke-width="0.8"/>
<path d="M404.9,291.7 L408.7,291.7 L406.8,294.9 Z" fill="#e2922f" fill-opacity="0.6" stroke="#e2922f" stroke-width="0.8"/>
<path d="M424,290.45 L427.8,290.45 L425.9,293.65 Z" fill="#e2922f" fill-opacity="0.6" stroke="#e2922f" stroke-width="0.8"/>
<path d="M443.1,271.98 L446.9,271.98 L445,275.18 Z" fill="#e2922f" fill-opacity="0.6" stroke="#e2922f" stroke-width="0.8"/>
<path d="M462.2,286.12 L466,286.12 L464.1,289.32 Z" fill="#e2922f" fill-opacity="0.6" stroke="#e2922f" stroke-width="0.8"/>
<path d="M481.3,290.45 L485.1,290.45 L483.2,293.65 Z" fill="#e2922f" fill-opacity="0.6" stroke="#e2922f" stroke-width="0.8"/>
<path d="M500.4,286.12 L504.2,286.12 L502.3,289.32 Z" fill="#e2922f" fill-opacity="0.6" stroke="#e2922f" stroke-width="0.8"/>
<polyline points="349.5,299.37 368.6,303.59 387.7,290.14 406.8,282.39 425.9,298.92 445,304.5" fill="none" stroke="#3b7352" stroke-width="1.12" stroke-linejoin="round"/>
<path d="M347.7,300.97 L351.3,300.97 L349.5,297.77 Z" fill="#3b7352"/>
<path d="M366.8,305.19 L370.4,305.19 L368.6,301.99 Z" fill="#3b7352"/>
<path d="M385.9,291.74 L389.5,291.74 L387.7,288.54 Z" fill="#3b7352"/>
<path d="M405,283.99 L408.6,283.99 L406.8,280.79 Z" fill="#3b7352"/>
<path d="M424.1,300.52 L427.7,300.52 L425.9,297.32 Z" fill="#3b7352"/>
<path d="M443.2,306.1 L446.8,306.1 L445,302.9 Z" fill="#3b7352"/>
<text transform="translate(353.7,314.7) rotate(-45) scale(0.88,1)" x="0" y="0" font-size="8" text-anchor="end" fill="#1a1a1a" stroke="#1a1a1a" stroke-width="0.05" textLength="41.48" lengthAdjust="spacing" >Screen/C1</text>
<text transform="translate(372.8,314.7) rotate(-45) scale(1,1)" x="0" y="0" font-size="8" text-anchor="end" fill="#1a1a1a" stroke="#1a1a1a" stroke-width="0.05" >C2</text>
<text transform="translate(391.9,314.7) rotate(-45) scale(1,1)" x="0" y="0" font-size="8" text-anchor="end" fill="#1a1a1a" stroke="#1a1a1a" stroke-width="0.05" >C3</text>
<text transform="translate(411,314.7) rotate(-45) scale(1,1)" x="0" y="0" font-size="8" text-anchor="end" fill="#1a1a1a" stroke="#1a1a1a" stroke-width="0.05" >C4</text>
<text transform="translate(430.1,314.7) rotate(-45) scale(1,1)" x="0" y="0" font-size="8" text-anchor="end" fill="#1a1a1a" stroke="#1a1a1a" stroke-width="0.05" >C5</text>
<text transform="translate(449.2,314.7) rotate(-45) scale(1,1)" x="0" y="0" font-size="8" text-anchor="end" fill="#1a1a1a" stroke="#1a1a1a" stroke-width="0.05" >C6</text>
<text transform="translate(468.3,314.7) rotate(-45) scale(1,1)" x="0" y="0" font-size="8" text-anchor="end" fill="#1a1a1a" stroke="#1a1a1a" stroke-width="0.05" >C7</text>
<text transform="translate(487.4,314.7) rotate(-45) scale(1,1)" x="0" y="0" font-size="8" text-anchor="end" fill="#1a1a1a" stroke="#1a1a1a" stroke-width="0.05" >C8</text>
<text transform="translate(506.5,314.7) rotate(-45) scale(1,1)" x="0" y="0" font-size="8" text-anchor="end" fill="#1a1a1a" stroke="#1a1a1a" stroke-width="0.05" >EOT</text>
<rect x="0" y="0" width="520" height="1.5" fill="#4d4d4d"/>
<rect x="0" y="0" width="1.6" height="350" fill="#4d4d4d"/>
<rect x="0" y="348" width="520" height="2" fill="#4d4d4d"/>
<rect x="518.8" y="0" width="1.2" height="350" fill="#111"/>
</svg>
</body></html>
